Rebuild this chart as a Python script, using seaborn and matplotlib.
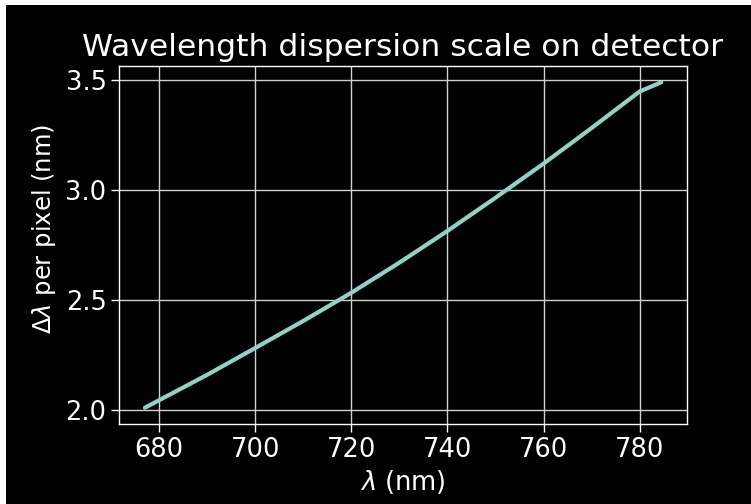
import matplotlib
matplotlib.use("Agg")
import matplotlib.pyplot as plt
from matplotlib.patches import Rectangle
import seaborn as sns
import pandas as pd

# Dispersion per detector pixel as a function of wavelength
wavelength_nm = [677.0, 690.0, 700.0, 710.0, 720.0, 730.0, 740.0, 750.0, 760.0, 770.0, 780.0, 784.5]
delta_per_pixel_nm = [2.010, 2.160, 2.282, 2.405, 2.533, 2.670, 2.814, 2.965, 3.120, 3.282, 3.448, 3.490]

x_ticks = [680, 700, 720, 740, 760, 780]
y_ticks = [2.0, 2.5, 3.0, 3.5]

plt.style.use("dark_background")
sns.set_style("dark", {"axes.facecolor": "black", "figure.facecolor": "black"})
plt.rcParams["font.family"] = ["DejaVu Sans"]

df = pd.DataFrame({"wavelength": wavelength_nm, "dispersion": delta_per_pixel_nm})

fig = plt.figure(figsize=(7.51, 5.04), dpi=100, facecolor="black")
ax = fig.add_axes([0.1585, 0.1587, 0.9148 - 0.1585, 0.869 - 0.1587])
ax.set_facecolor("black")

sns.lineplot(data=df, x="wavelength", y="dispersion", ax=ax,
             color="#8dd3c7", linewidth=3.0, sort=False)

ax.set_xticks(x_ticks)
ax.set_yticks(y_ticks)
ax.set_xticklabels([str(t) for t in x_ticks])
ax.set_yticklabels([f"{t:.1f}" for t in y_ticks])
ax.margins(x=0.05, y=0.05)

ax.grid(True, color="#d0d0d0", linewidth=1.0)
for s in ax.spines.values():
    s.set_visible(True)
    s.set_color("white")
    s.set_linewidth(1.0)

ax.tick_params(axis="both", colors="white", labelsize=18.5, length=5.5, width=1.0,
               bottom=True, left=True, labelcolor="white")

ax.set_xlabel(r"$\lambda$ (nm)", fontsize=18.5, color="white", labelpad=4)
ax.set_ylabel(r"$\Delta\lambda$ per pixel (nm)", fontsize=17.5, color="white")
ax.yaxis.set_label_coords(-0.108, 0.545)
ax.set_title("Wavelength dispersion scale on detector", fontsize=22.6, color="white", pad=7)

# thin white frame along the left and top edges
fig.patches.append(Rectangle((0, 0), 6 / 751, 1, transform=fig.transFigure,
                             facecolor="white", edgecolor="none", zorder=10))
fig.patches.append(Rectangle((0, 1 - 5 / 504), 1, 5 / 504, transform=fig.transFigure,
                             facecolor="white", edgecolor="none", zorder=10))

fig.savefig("out.png", dpi=100, facecolor="black")
